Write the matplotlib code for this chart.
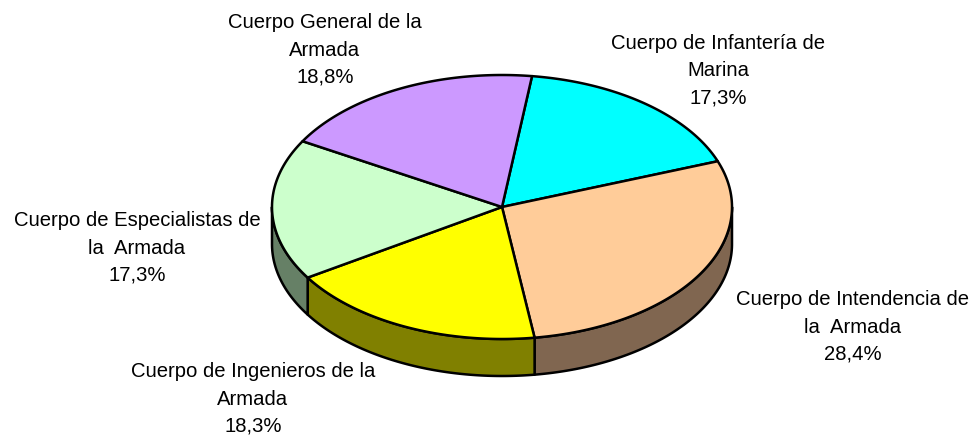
import numpy as np
import matplotlib
matplotlib.use("Agg")
import matplotlib.pyplot as plt
from matplotlib.patches import Polygon

# slices, clockwise from the top
labels = ["Cuerpo de Infantería de\nMarina",
          "Cuerpo de Intendencia de\nla  Armada",
          "Cuerpo de Ingenieros de la\nArmada",
          "Cuerpo de Especialistas de\nla  Armada",
          "Cuerpo General de la\nArmada"]
values = [17.3, 28.4, 18.3, 17.3, 18.8]
pct_text = ["17,3%", "28,4%", "18,3%", "17,3%", "18,8%"]
top_colors = ["#00FFFF", "#FFCC99", "#FFFF00", "#CCFFCC", "#CC99FF"]
side_colors = ["#008080", "#806650", "#808000", "#668066", "#664C80"]

# label block centres (pixels)
label_pos = [(718, 71), (853, 327), (253, 399), (137, 248), (325, 50)]

# pie geometry in pixels
cx, cy = 502, 207
ra, rb = 230, 132
depth = 37
start = 82.5

plt.rcParams['font.family'] = ['Liberation Sans', 'DejaVu Sans']

fig = plt.figure(figsize=(9.73, 4.36), dpi=100)
ax = fig.add_axes([0, 0, 1, 1])
ax.set_xlim(0, 973)
ax.set_ylim(436, 0)
ax.axis('off')

vals = np.array(values)
bounds = start - np.concatenate([[0], np.cumsum(vals / vals.sum() * 360)])


def arc(t0, t1, dy=0, n=120):
    t = np.radians(np.linspace(t0, t1, n))
    return np.column_stack([cx + ra * np.cos(t), cy - rb * np.sin(t) + dy])


# side walls (front half only: angles in [-180, 0] modulo 360)
for i in range(len(values)):
    hi, lo = bounds[i], bounds[i + 1]
    for k in (-360, 0, 360):
        a0 = min(hi, 0 + k)
        a1 = max(lo, -180 + k)
        if a0 > a1:
            upper = arc(a0, a1)
            lower = arc(a1, a0, dy=depth)
            ax.add_patch(Polygon(np.vstack([upper, lower]), closed=True,
                                 facecolor=side_colors[i], edgecolor='black',
                                 linewidth=1.8, joinstyle='round'))

# top faces
for i in range(len(values)):
    pts = np.vstack([[cx, cy], arc(bounds[i], bounds[i + 1])])
    ax.add_patch(Polygon(pts, closed=True, facecolor=top_colors[i],
                         edgecolor='black', linewidth=1.8, joinstyle='round'))

for i in range(len(values)):
    x, y = label_pos[i]
    ax.text(x, y, labels[i] + "\n" + pct_text[i], ha='center', va='center',
            multialignment='center', fontsize=14.6, linespacing=1.55,
            color='black')

fig.savefig("out.png", dpi=100)
